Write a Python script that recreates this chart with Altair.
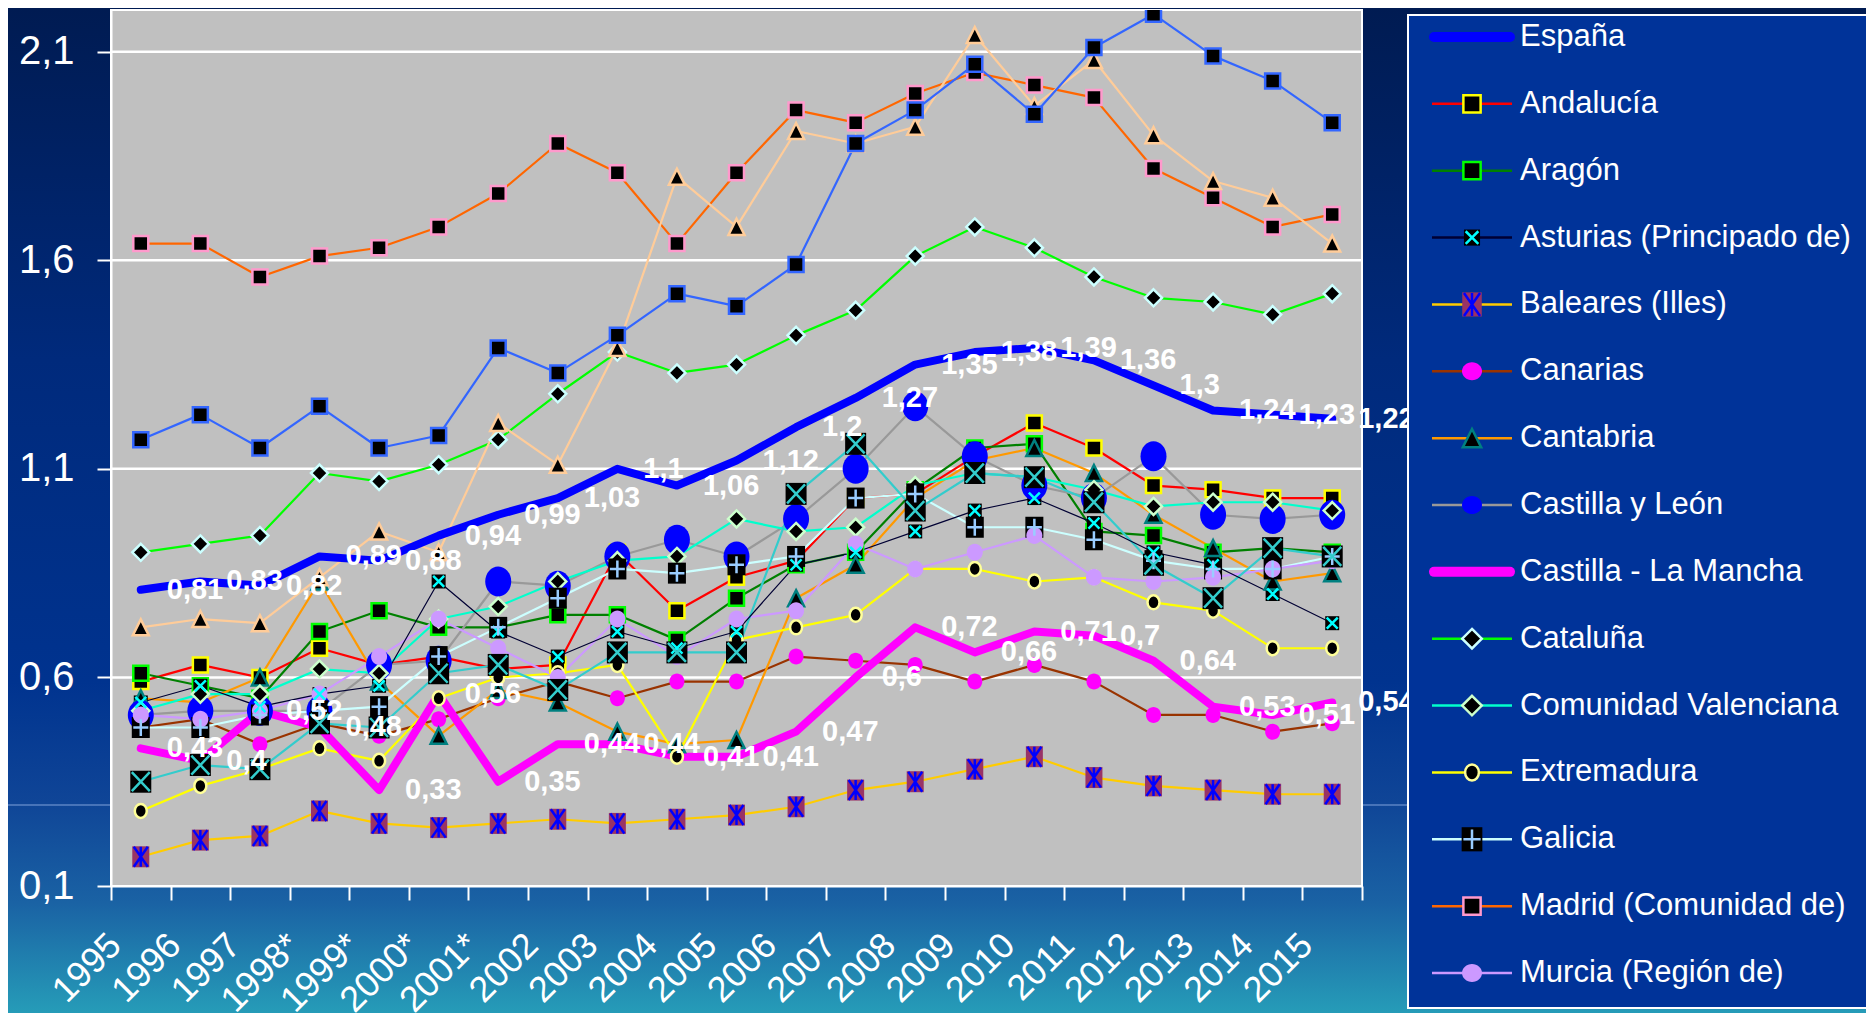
import altair as alt
import pandas as pd

FONT = "Liberation Sans"

years = ["1995", "1996", "1997", "1998*", "1999*", "2000*", "2001*", "2002", "2003", "2004",
         "2005", "2006", "2007", "2008", "2009", "2010", "2011", "2012", "2013", "2014", "2015"]

region_names = ["España", "Andalucía", "Aragón", "Asturias (Principado de)", "Baleares (Illes)",
                "Canarias", "Cantabria", "Castilla y León", "Castilla - La Mancha", "Cataluña",
                "Comunidad Valenciana", "Extremadura", "Galicia", "Madrid (Comunidad de)",
                "Murcia (Región de)", "Navarra (Comunidad Foral de)", "País Vasco", "Rioja (La)"]

espana = [0.81, 0.83, 0.82, 0.89, 0.88, 0.94, 0.99, 1.03, 1.10, 1.06, 1.12, 1.20, 1.27, 1.35, 1.38, 1.39, 1.36, 1.30, 1.24, 1.23, 1.22]
andalucia = [0.59, 0.63, 0.60, 0.67, 0.63, 0.65, 0.62, 0.63, 0.90, 0.76, 0.84, 0.88, 1.03, 1.04, 1.13, 1.21, 1.15, 1.06, 1.05, 1.03, 1.03]
aragon = [0.61, 0.58, 0.55, 0.71, 0.76, 0.72, 0.72, 0.75, 0.75, 0.69, 0.79, 0.87, 0.90, 1.05, 1.15, 1.16, 0.95, 0.94, 0.90, 0.91, 0.90]
asturias = [0.54, 0.58, 0.53, 0.56, 0.58, 0.83, 0.71, 0.65, 0.71, 0.67, 0.71, 0.87, 0.90, 0.95, 1.00, 1.03, 0.97, 0.90, 0.87, 0.80, 0.73]
baleares = [0.17, 0.21, 0.22, 0.28, 0.25, 0.24, 0.25, 0.26, 0.25, 0.26, 0.27, 0.29, 0.33, 0.35, 0.38, 0.41, 0.36, 0.34, 0.33, 0.32, 0.32]
canarias = [0.48, 0.50, 0.44, 0.49, 0.46, 0.50, 0.55, 0.59, 0.55, 0.59, 0.59, 0.65, 0.64, 0.63, 0.59, 0.63, 0.59, 0.51, 0.51, 0.47, 0.49]
cantabria = [0.55, 0.54, 0.60, 0.83, 0.59, 0.46, 0.57, 0.54, 0.47, 0.44, 0.45, 0.79, 0.87, 1.03, 1.12, 1.15, 1.09, 0.99, 0.91, 0.83, 0.85]
castilla_leon = [0.51, 0.52, 0.52, 0.52, 0.63, 0.64, 0.83, 0.82, 0.89, 0.93, 0.89, 0.98, 1.10, 1.25, 1.13, 1.06, 1.03, 1.13, 0.99, 0.98, 0.99]
castilla_mancha = [0.43, 0.40, 0.52, 0.48, 0.33, 0.56, 0.35, 0.44, 0.44, 0.41, 0.41, 0.47, 0.60, 0.72, 0.66, 0.71, 0.70, 0.64, 0.53, 0.51, 0.54]
cataluna = [0.90, 0.92, 0.94, 1.09, 1.07, 1.11, 1.17, 1.28, 1.38, 1.33, 1.35, 1.42, 1.48, 1.61, 1.68, 1.63, 1.56, 1.51, 1.50, 1.47, 1.52]
valenciana = [0.52, 0.56, 0.56, 0.62, 0.61, 0.74, 0.77, 0.83, 0.88, 0.89, 0.98, 0.95, 0.96, 1.06, 1.09, 1.08, 1.05, 1.01, 1.02, 1.02, 1.00]
extremadura = [0.28, 0.34, 0.38, 0.43, 0.40, 0.55, 0.60, 0.61, 0.63, 0.41, 0.69, 0.72, 0.75, 0.86, 0.86, 0.83, 0.84, 0.78, 0.76, 0.67, 0.67]
galicia = [0.48, 0.48, 0.51, 0.52, 0.53, 0.65, 0.72, 0.79, 0.86, 0.85, 0.87, 0.89, 1.03, 1.04, 0.96, 0.96, 0.93, 0.88, 0.86, 0.86, 0.89]
madrid = [1.64, 1.64, 1.56, 1.61, 1.63, 1.68, 1.76, 1.88, 1.81, 1.64, 1.81, 1.96, 1.93, 2.00, 2.05, 2.02, 1.99, 1.82, 1.75, 1.68, 1.71]
murcia = [0.51, 0.50, 0.52, 0.56, 0.65, 0.74, 0.67, 0.60, 0.74, 0.65, 0.74, 0.76, 0.92, 0.86, 0.90, 0.94, 0.84, 0.83, 0.84, 0.86, 0.88]
navarra = [0.72, 0.74, 0.73, 0.84, 0.95, 0.90, 1.21, 1.11, 1.39, 1.80, 1.68, 1.91, 1.88, 1.92, 2.14, 1.97, 2.08, 1.90, 1.79, 1.75, 1.64]
pais_vasco = [1.17, 1.23, 1.15, 1.25, 1.15, 1.18, 1.39, 1.33, 1.42, 1.52, 1.49, 1.59, 1.88, 1.96, 2.07, 1.95, 2.11, 2.19, 2.09, 2.03, 1.93]
rioja = [0.35, 0.39, 0.38, 0.49, 0.48, 0.61, 0.63, 0.57, 0.66, 0.66, 0.66, 1.04, 1.16, 1.00, 1.09, 1.08, 1.02, 0.87, 0.79, 0.91, 0.89]

y_ticks = [0.1, 0.6, 1.1, 1.6, 2.1]
grid_values = [0.6, 1.1, 1.6, 2.1]

series_values = [espana, andalucia, aragon, asturias, baleares, canarias, cantabria, castilla_leon,
                 castilla_mancha, cataluna, valenciana, extremadura, galicia, madrid, murcia,
                 navarra, pais_vasco, rioja]

rows = []
for name, vals in zip(region_names, series_values):
    for i, (yr, v) in enumerate(zip(years, vals)):
        rows.append({"region": name, "year": yr, "idx": i, "value": v})
df = pd.DataFrame(rows)

legend_names = region_names[:15]

# ---------------- styles ----------------
LINE = {
    "España": "#0000ff", "Andalucía": "#ff0000", "Aragón": "#008000",
    "Asturias (Principado de)": "#000033", "Baleares (Illes)": "#ffcc00", "Canarias": "#993300",
    "Cantabria": "#ff9900", "Castilla y León": "#999999", "Castilla - La Mancha": "#ff00ff",
    "Cataluña": "#00ff00", "Comunidad Valenciana": "#00ffcc", "Extremadura": "#ffff00",
    "Galicia": "#ccffff", "Madrid (Comunidad de)": "#ff6600", "Murcia (Región de)": "#cc99ff",
    "Navarra (Comunidad Foral de)": "#ffcc99", "País Vasco": "#3366ff", "Rioja (La)": "#33cccc",
}
THICK = ["España", "Castilla - La Mancha"]
THIN = ["Asturias (Principado de)"]
NORMAL = [n for n in region_names if n not in THICK + THIN]


def f(v):
    return f"{v:.3f}"


def p_square(w, h):
    a, b = w / 10, h / 10
    return f"M{f(-a)},{f(-b)}L{f(a)},{f(-b)}L{f(a)},{f(b)}L{f(-a)},{f(b)}Z"


def p_diamond(w, h):
    a, b = w / 10, h / 10
    return f"M0,{f(-b)}L{f(a)},0L0,{f(b)}L{f(-a)},0Z"


def p_triangle(w, h):
    a, b = w / 10, h / 10
    return f"M0,{f(-b)}L{f(a)},{f(b)}L{f(-a)},{f(b)}Z"


def p_circle(w, h):
    a, b = w / 10, h / 10
    k = 0.5523
    return (f"M{f(a)},0C{f(a)},{f(k*b)} {f(k*a)},{f(b)} 0,{f(b)}"
            f"C{f(-k*a)},{f(b)} {f(-a)},{f(k*b)} {f(-a)},0"
            f"C{f(-a)},{f(-k*b)} {f(-k*a)},{f(-b)} 0,{f(-b)}"
            f"C{f(k*a)},{f(-b)} {f(a)},{f(-k*b)} {f(a)},0Z")


def p_x(w, h):
    a, b = w / 10, h / 10
    return f"M{f(-a)},{f(-b)}L{f(a)},{f(b)}M{f(-a)},{f(b)}L{f(a)},{f(-b)}"


def p_plus(w, h):
    a, b = w / 10, h / 10
    return f"M{f(-a)},0L{f(a)},0M0,{f(-b)}L0,{f(b)}"


def p_asterisk(w, h):
    a, b = w / 10, h / 10
    return p_x(w, h) + f"M0,{f(-b)}L0,{f(b)}"


SHAPES = {"square": p_square, "diamond": p_diamond, "triangle": p_triangle, "circle": p_circle,
          "x": p_x, "plus": p_plus, "asterisk": p_asterisk}

MARK = {
    "Andalucía": ("square", 15, 15, "#000000", "#ffff00"),
    "Aragón": ("square", 15, 15, "#000000", "#00ff00"),
    "Asturias (Principado de)": ("square", 14, 14, "#000000", "transparent"),
    "Baleares (Illes)": ("square", 17, 21, "#993366", "transparent"),
    "Canarias": ("circle", 15, 16, "#ff00ff", "transparent"),
    "Cantabria": ("triangle", 16, 16, "#000000", "#008080"),
    "Castilla y León": ("circle", 26, 30, "#0000ff", "transparent"),
    "Cataluña": ("diamond", 17, 17, "#000000", "#ccffff"),
    "Comunidad Valenciana": ("diamond", 17, 17, "#000000", "#ccffcc"),
    "Extremadura": ("circle", 12, 14, "#000000", "#ffff99"),
    "Galicia": ("square", 18, 21, "#000000", "transparent"),
    "Madrid (Comunidad de)": ("square", 15, 15, "#000000", "#ff99cc"),
    "Murcia (Región de)": ("circle", 16, 17, "#cc99ff", "transparent"),
    "Navarra (Comunidad Foral de)": ("triangle", 16, 16, "#000000", "#ffcc99"),
    "País Vasco": ("square", 15, 15, "#000000", "#3366ff"),
    "Rioja (La)": ("square", 21, 22, "#000000", "transparent"),
}
GLYPH = {
    "Asturias (Principado de)": ("x", 11, 11, "#00ffff"),
    "Baleares (Illes)": ("asterisk", 14, 20, "#0000ff"),
    "Galicia": ("plus", 15, 17, "#99ccff"),
    "Rioja (La)": ("x", 18, 19, "#33cccc"),
}
# legend symbols are drawn a little larger, Castilla y León smaller
LEG_SCALE = 1.15
LEG_OVERRIDE = {"Castilla y León": (20, 18), "Canarias": (20, 18), "Murcia (Región de)": (20, 18)}

mark_names = [n for n in region_names if n in MARK]
glyph_names = [n for n in region_names if n in GLYPH]


def in_set(names):
    return alt.FieldOneOfPredicate(field="region", oneOf=names)


def line_stroke():
    return alt.Stroke("region:N", legend=None,
                      scale=alt.Scale(domain=region_names, range=[LINE[n] for n in region_names]))


def dims(n, spec, legend):
    w, h = spec[1], spec[2]
    if legend:
        if n in LEG_OVERRIDE:
            return LEG_OVERRIDE[n]
        return w * LEG_SCALE, h * LEG_SCALE
    return w, h


def marker_enc(legend=False):
    return dict(
        shape=alt.Shape("region:N", legend=None, scale=alt.Scale(
            domain=mark_names,
            range=[SHAPES[MARK[n][0]](*dims(n, MARK[n], legend)) for n in mark_names])),
        fill=alt.Fill("region:N", legend=None, scale=alt.Scale(
            domain=mark_names, range=[MARK[n][3] for n in mark_names])),
        stroke=alt.Stroke("region:N", legend=None, scale=alt.Scale(
            domain=mark_names, range=[MARK[n][4] for n in mark_names])),
    )


def glyph_enc(legend=False):
    return dict(
        shape=alt.Shape("region:N", legend=None, scale=alt.Scale(
            domain=glyph_names,
            range=[SHAPES[GLYPH[n][0]](*dims(n, GLYPH[n], legend)) for n in glyph_names])),
        stroke=alt.Stroke("region:N", legend=None, scale=alt.Scale(
            domain=glyph_names, range=[GLYPH[n][3] for n in glyph_names])),
    )


# ---------------- layout (pixels) ----------------
W, H = 1251, 876                 # plot area
PAD_L, PAD_T = 103, 2            # space left of / above the plot
CANVAS_W, CANVAS_H = 1858, 1005  # whole drawing (fits the window without scrolling)
PAD_R = CANVAS_W - PAD_L - W
PAD_B = CANVAS_H - PAD_T - H
LEG_X = W + 46                   # legend box left edge (relative to plot)

# ---------------- main chart ----------------
x_enc = alt.X("year:N", sort=years,
              scale=alt.Scale(type="band", domain=years, paddingInner=0, paddingOuter=0),
              axis=alt.Axis(title=None, labelAngle=-45, labelAlign="right", labelBaseline="alphabetic",
                            labelFontSize=36, labelFont=FONT, labelColor="white", labelPadding=47,
                            labelOffset=-18, labelOverlap=False, tickBand="extent", tickColor="white",
                            tickSize=14, tickWidth=2, domainColor="white", domainWidth=2, grid=False,
                            zindex=1))
y_enc = alt.Y("value:Q", scale=alt.Scale(domain=[0.1, 2.2], nice=False, zero=False),
              axis=alt.Axis(title=None, values=y_ticks,
                            labelExpr="replace(format(datum.value, '.1f'), '.', ',')",
                            labelFontSize=40, labelFont=FONT, labelColor="white", labelPadding=23,
                            tickColor="white", tickSize=14, tickWidth=2, domainColor="white",
                            domainWidth=2, grid=False, zindex=1))

dummy = pd.DataFrame({"k": [0]})
gradient = alt.LinearGradient(
    gradient="linear", x1=0, x2=0, y1=0, y2=1,
    stops=[alt.GradientStop(color="#001b52", offset=0.0),
           alt.GradientStop(color="#002a7c", offset=0.35),
           alt.GradientStop(color="#00338f", offset=0.67),
           alt.GradientStop(color="#0f4597", offset=0.79),
           alt.GradientStop(color="#1a62a4", offset=0.89),
           alt.GradientStop(color="#269cb8", offset=1.0)])

bg = alt.Chart(dummy).mark_rect(fill=gradient).encode(
    x=alt.value(-PAD_L), x2=alt.value(W + PAD_R), y=alt.value(-PAD_T), y2=alt.value(H + PAD_B))
slide_line = alt.Chart(dummy).mark_rule(color="#5b84c4", strokeWidth=1.5).encode(
    x=alt.value(-PAD_L), x2=alt.value(W + PAD_R), y=alt.value(795))
plot_bg = alt.Chart(dummy).mark_rect(fill="#c0c0c0", stroke="white", strokeWidth=2).encode(
    x=alt.value(0), x2=alt.value(W), y=alt.value(0), y2=alt.value(H))

grid = alt.Chart(pd.DataFrame({"value": grid_values})).mark_rule(color="white", strokeWidth=2.5).encode(
    y=y_enc)

base = alt.Chart(df)


def lines(names, width):
    return base.transform_filter(in_set(names)).mark_line(
        strokeWidth=width, strokeJoin="round", strokeCap="round", clip=True).encode(
        x=x_enc, y=y_enc, stroke=line_stroke(), order=alt.Order("idx:Q"), detail="region:N")


lines_normal = lines(NORMAL, 2.2)
lines_thin = lines(THIN, 1.2)
lines_thick = lines(THICK, 8)

markers = base.transform_filter(in_set(mark_names)).mark_point(
    filled=True, size=100, strokeWidth=2.5, opacity=1, clip=True).encode(x=x_enc, y=y_enc, **marker_enc())
glyphs = base.transform_filter(in_set(glyph_names)).mark_point(
    filled=False, size=100, strokeWidth=2.5, opacity=1, clip=True).encode(x=x_enc, y=y_enc, **glyph_enc())

labels = base.transform_filter(in_set(THICK)).transform_calculate(
    label="replace(format(datum.value, '.2~f'), '.', ',')").mark_text(
    align="left", baseline="middle", dx=26, font=FONT, fontSize=29, fontWeight="bold",
    color="white").encode(x=x_enc, y=y_enc, text="label:N")

main = alt.layer(bg, slide_line, plot_bg, grid, lines_normal, lines_thin, lines_thick,
                 markers, glyphs, labels).resolve_scale(
    stroke="independent", fill="independent", shape="independent")

# ---------------- legend box ----------------
leg_df = pd.DataFrame({"region": legend_names})
leg_base = alt.Chart(leg_df)
leg_y = alt.Y("region:N", sort=legend_names, axis=None,
              scale=alt.Scale(type="point", domain=legend_names, range=[27, 963], padding=0))

leg_box = alt.Chart(dummy).mark_rect(fill="#003399", stroke="white", strokeWidth=2).encode(
    x=alt.value(LEG_X), x2=alt.value(LEG_X + 480), y=alt.value(5), y2=alt.value(998))
leg_lines_normal = leg_base.transform_filter(in_set([n for n in legend_names if n not in THICK])).mark_rule(
    strokeWidth=2.5).encode(x=alt.value(LEG_X + 24), x2=alt.value(LEG_X + 104), y=leg_y, stroke=line_stroke())
leg_lines_thick = leg_base.transform_filter(in_set(THICK)).mark_rule(
    strokeWidth=10, strokeCap="round").encode(x=alt.value(LEG_X + 26), x2=alt.value(LEG_X + 102), y=leg_y,
                                             stroke=line_stroke())
leg_markers = leg_base.transform_filter(in_set([n for n in legend_names if n in MARK])).mark_point(
    filled=True, size=100, strokeWidth=2.5, opacity=1).encode(
    x=alt.value(LEG_X + 64), y=leg_y, **marker_enc(legend=True))
leg_glyphs = leg_base.transform_filter(in_set([n for n in legend_names if n in GLYPH])).mark_point(
    filled=False, size=100, strokeWidth=2.5, opacity=1).encode(
    x=alt.value(LEG_X + 64), y=leg_y, **glyph_enc(legend=True))
leg_text = leg_base.mark_text(align="left", baseline="middle", font=FONT, fontSize=31,
                              color="white").encode(x=alt.value(LEG_X + 112), y=leg_y, text="region:N")

legend = alt.layer(leg_box, leg_lines_normal, leg_lines_thick, leg_markers, leg_glyphs, leg_text).resolve_scale(
    stroke="independent", fill="independent", shape="independent")

chart = alt.layer(main, legend).resolve_scale(
    y="independent", stroke="independent", fill="independent", shape="independent").properties(
    width=W, height=H,
    autosize=alt.AutoSizeParams(type="none"),
    padding={"left": PAD_L, "top": PAD_T, "right": PAD_R, "bottom": PAD_B},
    view=alt.ViewBackground(fill="transparent", stroke="transparent")).configure(
    background="#002a7c")

chart.save("out.html", embed_options={"renderer": "svg", "actions": False})
